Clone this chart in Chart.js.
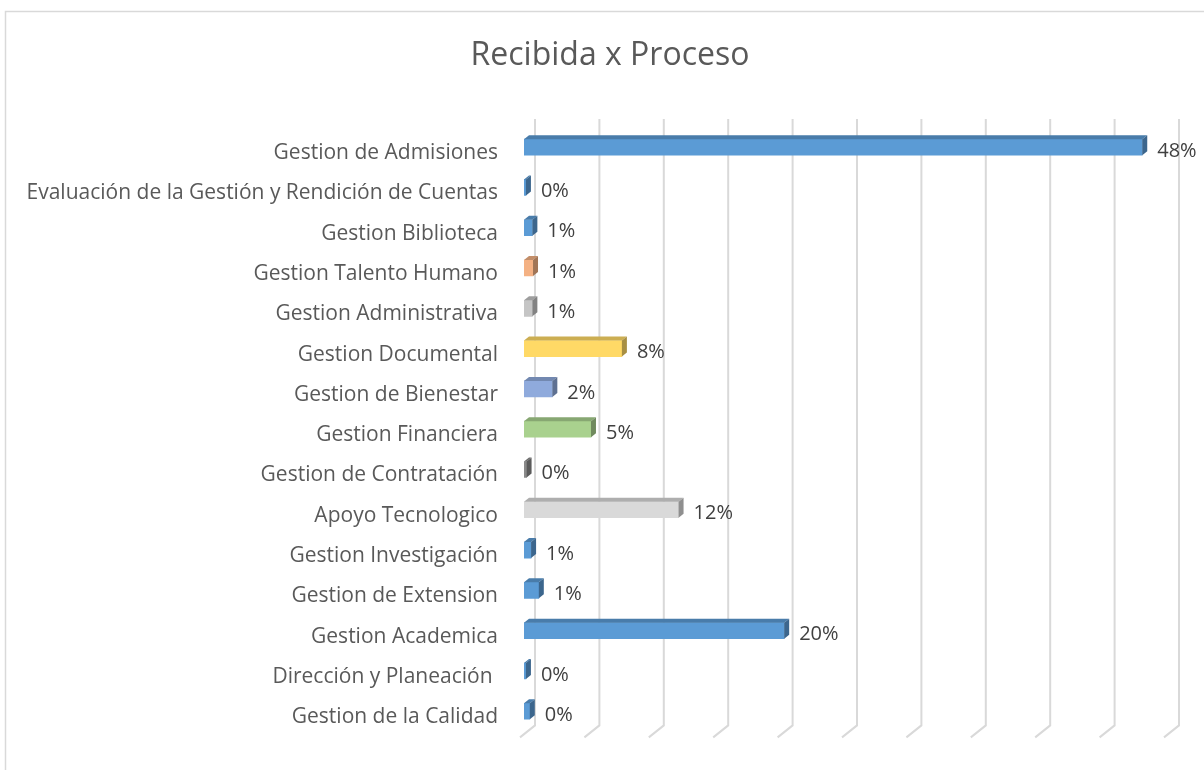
<!DOCTYPE html>
<html lang="es">
<head>
<meta charset="UTF-8">
<title>Recibida x Proceso</title>
<script src="https://cdn.jsdelivr.net/npm/chart.js"></script>
<style>
  html, body { margin: 0; padding: 0; background: #fff; }
  canvas { display: block; }
</style>
</head>
<body>
<canvas id="procesoChart" width="1204" height="770"></canvas>
<script>
// categorias (de arriba hacia abajo)
var procesos = [
  "Gestion de Admisiones",
  "Evaluación de la Gestión y Rendición de Cuentas",
  "Gestion Biblioteca",
  "Gestion Talento Humano",
  "Gestion Administrativa",
  "Gestion Documental",
  "Gestion de Bienestar",
  "Gestion Financiera",
  "Gestion de Contratación",
  "Apoyo Tecnologico",
  "Gestion Investigación",
  "Gestion de Extension",
  "Gestion Academica",
  "Dirección y Planeación ",
  "Gestion de la Calidad"
];

// porcentaje recibido por proceso
var porcentajes = [48.0, 0.15, 0.65, 0.7, 0.65, 7.6, 2.2, 5.2, 0.2, 12.0, 0.55, 1.15, 20.2, 0.15, 0.45];

// color de cada barra
var colores = [
  "#5B9BD5", "#5B9BD5", "#5B9BD5", "#F4B183", "#C5C5C5",
  "#FFD966", "#8FAADC", "#A9D18E", "#8A8A8A", "#D9D9D9",
  "#5B9BD5", "#5B9BD5", "#5B9BD5", "#5B9BD5", "#5B9BD5"
];

var ejeMin = 0;
var ejeMax = 50;
var ejePaso = 5;

function oscurecer(hex, f) {
  var n = parseInt(hex.slice(1), 16);
  var r = Math.round(((n >> 16) & 255) * f);
  var g = Math.round(((n >> 8) & 255) * f);
  var b = Math.round((n & 255) * f);
  return "rgb(" + r + "," + g + "," + b + ")";
}

var FUENTE = "'Open Sans', 'Noto Sans', sans-serif";

// marco, titulo y lineas de la cuadricula en perspectiva
var fondo3d = {
  id: "fondo3d",
  beforeDatasetsDraw: function (chart) {
    var ctx = chart.ctx;
    var area = chart.chartArea;
    var x = chart.scales.x;
    ctx.save();
    // marco
    ctx.strokeStyle = "#d9d9d9";
    ctx.lineWidth = 1.5;
    ctx.strokeRect(5.5, 11.5, chart.width + 10, chart.height + 10);
    // titulo
    ctx.fillStyle = "#595959";
    ctx.font = "32px " + FUENTE;
    ctx.textAlign = "center";
    ctx.textBaseline = "middle";
    ctx.fillText("Recibida x Proceso", 610, 56);
    // cuadricula
    ctx.strokeStyle = "#d9d9d9";
    ctx.lineWidth = 2;
    x.ticks.forEach(function (t) {
      var px = x.getPixelForValue(t.value) + 11;
      ctx.beginPath();
      ctx.moveTo(px, area.top - 8);
      ctx.lineTo(px, area.bottom - 6);
      ctx.lineTo(px - 15, area.bottom + 6);
      ctx.stroke();
    });
    ctx.restore();
  },
  afterDatasetsDraw: function (chart) {
    var ctx = chart.ctx;
    var meta = chart.getDatasetMeta(0);
    var dx = 5, dy = 4;
    ctx.save();
    meta.data.forEach(function (bar, i) {
      var p = bar.getProps(["x", "y", "base", "height"], true);
      var top = p.y - p.height / 2;
      var bottom = p.y + p.height / 2;
      var col = colores[i];
      // cara superior
      ctx.fillStyle = oscurecer(col, 0.8);
      ctx.beginPath();
      ctx.moveTo(p.base, top);
      ctx.lineTo(p.x, top);
      ctx.lineTo(p.x + dx, top - dy);
      ctx.lineTo(p.base + dx, top - dy);
      ctx.closePath();
      ctx.fill();
      // cara lateral
      ctx.fillStyle = oscurecer(col, 0.66);
      ctx.beginPath();
      ctx.moveTo(p.x, top);
      ctx.lineTo(p.x + dx, top - dy);
      ctx.lineTo(p.x + dx, bottom - dy);
      ctx.lineTo(p.x, bottom);
      ctx.closePath();
      ctx.fill();
      // etiqueta
      ctx.fillStyle = "#404040";
      ctx.font = "20px " + FUENTE;
      ctx.textAlign = "left";
      ctx.textBaseline = "middle";
      ctx.fillText(Math.round(porcentajes[i]) + "%", p.x + 15, p.y + 4);
    });
    ctx.restore();
  }
};

var ctx = document.getElementById("procesoChart").getContext("2d");
new Chart(ctx, {
  type: "bar",
  data: {
    labels: procesos,
    datasets: [{
      label: "Recibida",
      data: porcentajes,
      backgroundColor: colores,
      borderWidth: 0,
      barThickness: 16
    }]
  },
  options: {
    indexAxis: "y",
    responsive: false,
    animation: false,
    layout: {
      padding: { top: 127, bottom: 36, right: 36, left: 0 }
    },
    plugins: {
      legend: { display: false },
      tooltip: { enabled: false },
      title: { display: false }
    },
    scales: {
      x: {
        min: ejeMin,
        max: ejeMax,
        ticks: { display: false, stepSize: ejePaso },
        grid: { display: false },
        border: { display: false },
        afterFit: function (scale) { scale.height = 0; }
      },
      y: {
        grid: { display: false, drawTicks: false },
        border: { display: false },
        ticks: {
          color: "#595959",
          font: { family: FUENTE, size: 21 },
          padding: 26,
          labelOffset: 6
        },
        afterFit: function (scale) { scale.width = 524; }
      }
    }
  },
  plugins: [fondo3d]
});
</script>
</body>
</html>
